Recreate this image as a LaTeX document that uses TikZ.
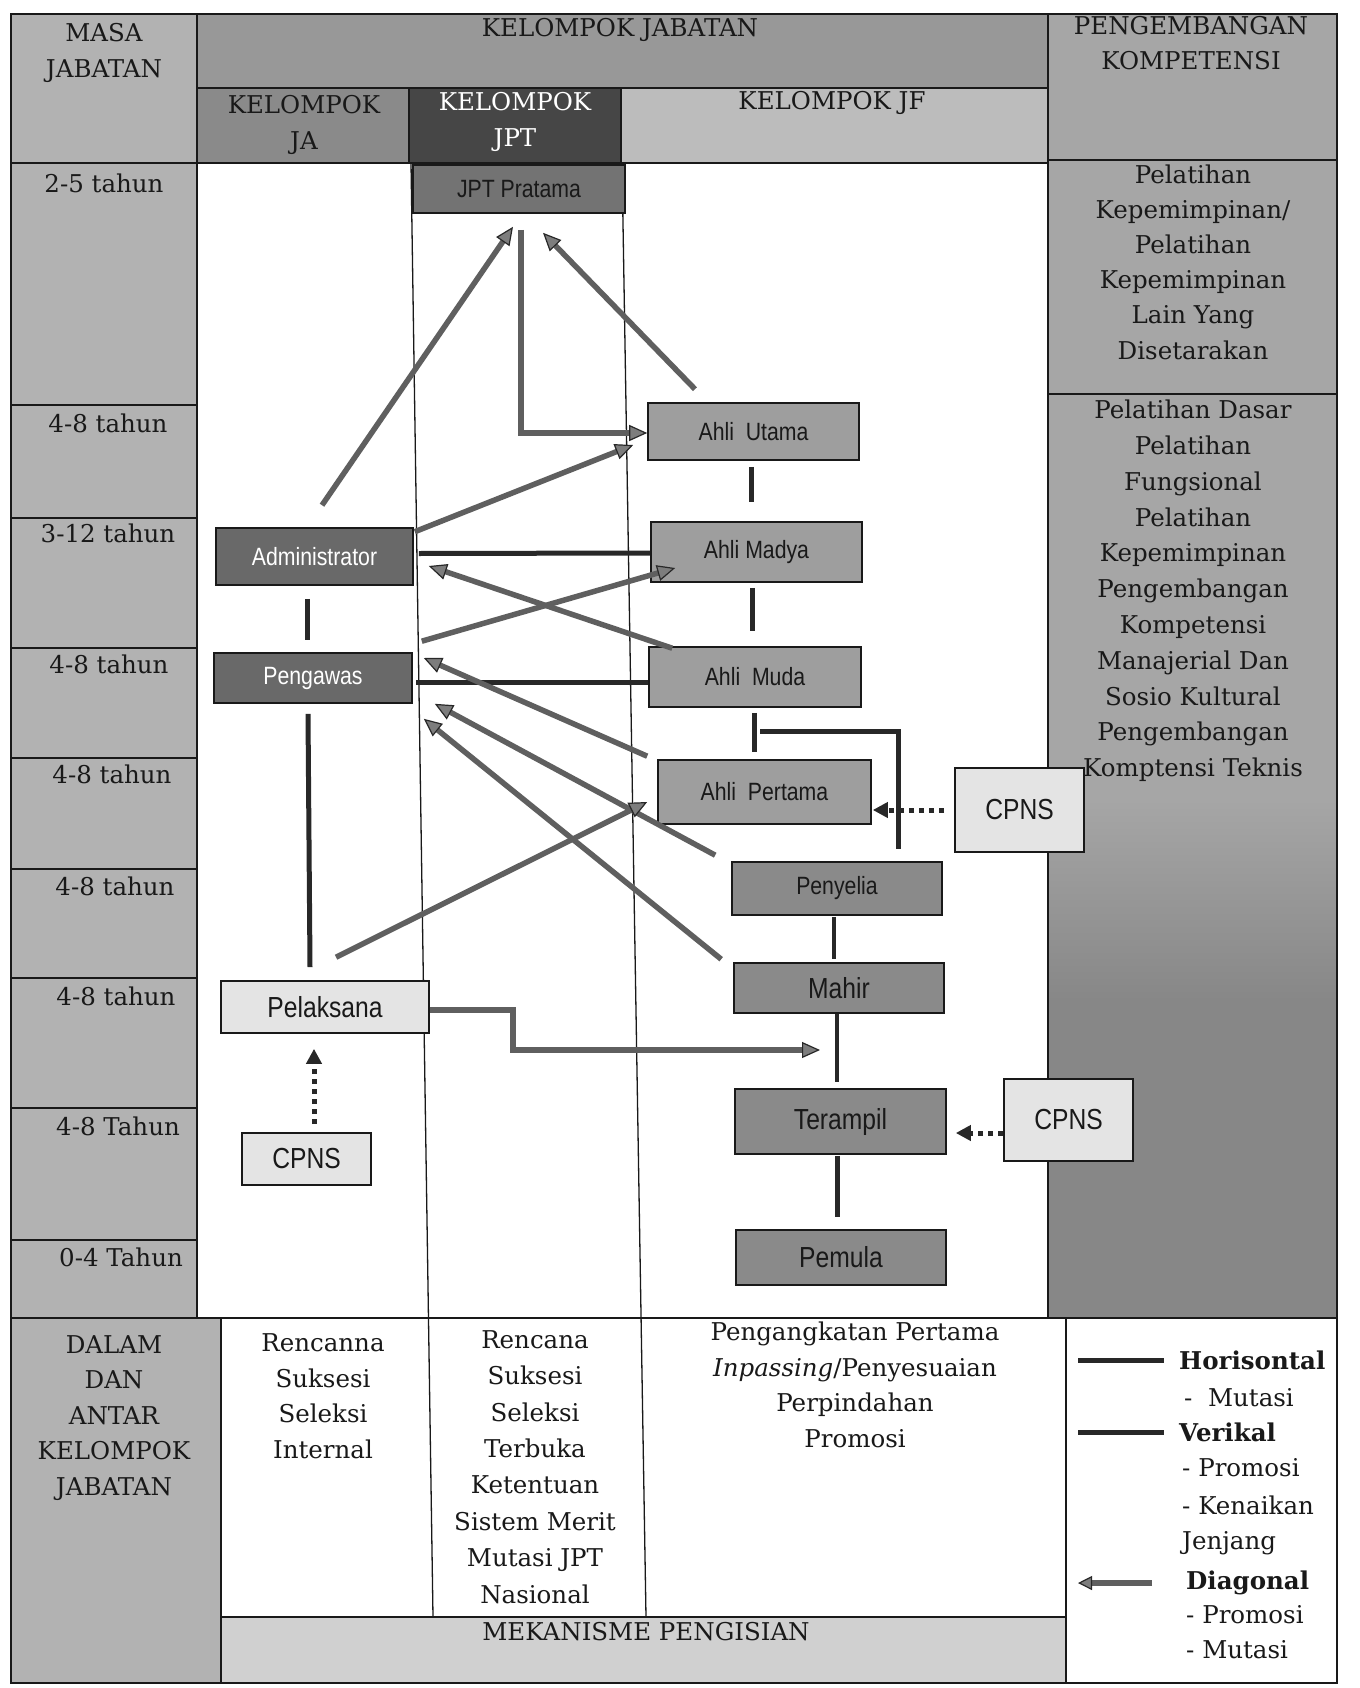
\documentclass[tikz,border=0pt]{standalone}
\usepackage{fontspec}
\setmainfont{DejaVu Serif}
\newfontfamily\boxfont[FakeStretch=0.85]{Liberation Sans}
\usetikzlibrary{arrows.meta,calc}
\definecolor{masa}{RGB}{178,178,178}
\definecolor{hdr}{RGB}{152,152,152}
\definecolor{hja}{RGB}{138,138,138}
\definecolor{hjpt}{RGB}{70,70,70}
\definecolor{hjf}{RGB}{188,188,188}
\definecolor{peng}{RGB}{166,166,166}
\definecolor{pengdark}{RGB}{135,135,135}
\definecolor{meka}{RGB}{208,208,208}
\definecolor{boxjpt}{RGB}{115,115,115}
\definecolor{boxahli}{RGB}{158,158,158}
\definecolor{boxja}{RGB}{105,105,105}
\definecolor{boxjf}{RGB}{138,138,138}
\definecolor{boxlight}{RGB}{228,228,228}
\definecolor{linedark}{RGB}{40,40,40}
\definecolor{arrgray}{RGB}{95,95,95}
\definecolor{tipgray}{RGB}{125,125,125}
\definecolor{ink}{RGB}{25,25,25}
\tikzset{
  gridline/.style={draw=ink, line width=1.3pt},
  txt/.style={font=\fontsize{24.5}{35.5}\selectfont, align=center, inner sep=0pt, text=ink},
  ltxt/.style={font=\fontsize{24.5}{35.5}\selectfont, anchor=west, inner sep=0pt, text=ink},
  jbox/.style={draw=ink, line width=1.6pt, inner sep=0pt, text=ink,
    font=\boxfont\fontsize{25}{28}\selectfont},
  bigtext/.style={font=\boxfont\fontsize{29}{32}\selectfont},
  vl/.style={draw=linedark, line width=5pt},
  vthin/.style={draw=linedark, line width=3.5pt},
  darr/.style={draw=arrgray, line width=5.5pt,
    -{Triangle[length=18pt,width=16pt,fill=tipgray,color=linedark,line width=1.2pt]}},
  dotarr/.style={draw=linedark, line width=5pt, dash pattern=on 5pt off 5pt,
    -{Triangle[length=15pt,width=15pt,fill=linedark]}}
}
\begin{document}
\begin{tikzpicture}[x=1pt,y=-1pt]
\useasboundingbox (0,0) rectangle (1359,1688);
\fill[white] (0,0) rectangle (1359,1688);
% ---------- fills
\fill[masa] (11,14) rectangle (197,1318);
\fill[hdr] (197,14) rectangle (1048,88);
\fill[hja] (197,88) rectangle (409,163);
\fill[hjpt] (409,88) rectangle (621,163);
\fill[hjf] (621,88) rectangle (1048,163);
\fill[peng] (1048,14) rectangle (1337,800);
\shade[top color=peng,bottom color=pengdark] (1048,799) rectangle (1337,1001);
\fill[pengdark] (1048,1000) rectangle (1337,1318);
\fill[masa] (11,1318) rectangle (221,1683);
\fill[meka] (221,1617) rectangle (1066,1683);
% ---------- grid
\draw[gridline] (11,14) rectangle (1337,1683);
\draw[gridline] (197,14) -- (197,1318);
\draw[gridline] (1048,14) -- (1048,1318);
\draw[gridline] (197,88) -- (1048,88);
\draw[gridline] (11,163) -- (1048,163);
\draw[gridline] (1048,160) -- (1337,160);
\draw[gridline] (1048,394) -- (1337,394);
\foreach \yy in {405,518,648,758,869,978,1108,1240}
  \draw[gridline] (11,\yy) -- (197,\yy);
\draw[gridline] (409,88) -- (409,163);
\draw[gridline] (621,88) -- (621,163);
\draw[gridline] (411,163) -- (433,1617);
\draw[gridline] (622,163) -- (646,1617);
\draw[gridline] (11,1318) -- (1337,1318);
\draw[gridline] (221,1318) -- (221,1683);
\draw[gridline] (1066,1318) -- (1066,1683);
\draw[gridline] (221,1617) -- (1066,1617);
% ---------- header texts
\node[txt] (tmasa) at (104,53) {MASA\\JABATAN};
\node[txt] (tkj) at (620,30) {KELOMPOK JABATAN};
\node[txt] (tpk) at (1191,43) {PENGEMBANGAN\\KOMPETENSI};
\node[txt] (tja) at (304,125) {KELOMPOK\\JA};
\node[txt, text=white] (tjpt) at (515,122) {KELOMPOK\\JPT};
\node[txt] (tjf) at (832,103) {KELOMPOK JF};
% ---------- masa labels
\node[txt] (r1) at (104,183) {2-5 tahun};
\node[txt] (r2) at (108,423) {4-8 tahun};
\node[txt] (r3) at (108,533) {3-12 tahun};
\node[txt] (r4) at (109,664) {4-8 tahun};
\node[txt] (r5) at (112,774) {4-8 tahun};
\node[txt] (r6) at (115,886) {4-8 tahun};
\node[txt] (r7) at (116,996) {4-8 tahun};
\node[txt] (r8) at (118,1126) {4-8 Tahun};
\node[txt] (r9) at (121,1257) {0-4 Tahun};
% ---------- pengembangan texts
\node[txt, font=\fontsize{24.5}{35.2}\selectfont] (pk1) at (1193,262)
  {Pelatihan\\Kepemimpinan/\\Pelatihan\\Kepemimpinan\\Lain Yang\\Disetarakan};
\node[txt, font=\fontsize{24.5}{35.8}\selectfont] (pk2) at (1193,591)
  {Pelatihan Dasar\\Pelatihan\\Fungsional\\Pelatihan\\Kepemimpinan\\Pengembangan\\Kompetensi\\Manajerial Dan\\Sosio Kultural\\Pengembangan\\Komptensi Teknis};
% ---------- bottom texts
\node[txt] (bm) at (114,1418) {DALAM\\DAN\\ANTAR\\KELOMPOK\\JABATAN};
\node[txt] (bja) at (323,1396) {Rencanna\\Suksesi\\Seleksi\\Internal};
\node[txt, font=\fontsize{24.5}{36.4}\selectfont] (bjpt) at (535,1467)
  {Rencana\\Suksesi\\Seleksi\\Terbuka\\Ketentuan\\Sistem Merit\\Mutasi JPT\\Nasional};
\node[txt] (bjf) at (855,1385)
  {Pengangkatan Pertama\\\textit{Inpassing}/Penyesuaian\\Perpindahan\\Promosi};
\node[txt] (bmek) at (646,1632) {MEKANISME PENGISIAN};
% ---------- legend
\node[ltxt, font=\bfseries\fontsize{24.5}{30}\selectfont] (lhor) at (1179,1360) {Horisontal};
\node[ltxt] (lmut1) at (1184,1398) {-\ \ Mutasi};
\node[ltxt, font=\bfseries\fontsize{24.5}{30}\selectfont] (lver) at (1179,1432) {Verikal};
\node[ltxt] (lpro1) at (1182,1468) {- Promosi};
\node[ltxt] (lken) at (1182,1505) {- Kenaikan};
\node[ltxt] (ljen) at (1182,1543) {Jenjang};
\node[ltxt, font=\bfseries\fontsize{24.5}{30}\selectfont] (ldia) at (1186,1583) {Diagonal};
\node[ltxt] (lpro2) at (1186,1615) {- Promosi};
\node[ltxt] (lmut2) at (1186,1650) {- Mutasi};
\coordinate (lh) at (1078,1360);
\coordinate (lv) at (1078,1432);
\coordinate (ld) at (1078,1583);
\draw[vl] (lh) -- ([xshift=-15]lhor.west);
\draw[vl] (lv) -- ([xshift=-15]lver.west);
\draw[darr, -{Triangle[length=14pt,width=14pt,fill=tipgray,color=linedark,line width=1.2pt]}]
  ([xshift=-34]ldia.west) -- (ld);
% ---------- boxes
\node[jbox, fill=boxjpt, minimum width=212, minimum height=48] (jpt) at (519,189) {JPT Pratama};
\node[jbox, fill=boxahli, minimum width=211, minimum height=57] (au) at (753.5,431.5) {Ahli\ \ Utama};
\node[jbox, fill=boxahli, minimum width=211, minimum height=60] (am) at (756.5,552) {Ahli Madya};
\node[jbox, fill=boxahli, minimum width=212, minimum height=60] (amu) at (755,677) {Ahli\ \ Muda};
\node[jbox, fill=boxahli, minimum width=213, minimum height=64] (ap) at (764.5,792) {Ahli\ \ Pertama};
\node[jbox, bigtext, fill=boxlight, minimum width=129, minimum height=84] (cpa) at (1019.5,810) {CPNS};
\node[jbox, fill=boxjf, minimum width=210, minimum height=53] (pen) at (837,888.5) {Penyelia};
\node[jbox, bigtext, fill=boxjf, minimum width=210, minimum height=50] (mahir) at (839,988) {Mahir};
\node[jbox, bigtext, fill=boxjf, minimum width=211, minimum height=65] (ter) at (840.5,1121.5) {Terampil};
\node[jbox, bigtext, fill=boxjf, minimum width=210, minimum height=55] (pem) at (841,1257.5) {Pemula};
\node[jbox, bigtext, fill=boxlight, minimum width=129, minimum height=82] (cpb) at (1068.5,1120) {CPNS};
\node[jbox, bigtext, fill=boxlight, minimum width=208, minimum height=52] (pel) at (325,1007) {Pelaksana};
\node[jbox, bigtext, fill=boxlight, minimum width=129, minimum height=52] (cpc) at (306.5,1159) {CPNS};
\node[jbox, fill=boxja, text=white, minimum width=197, minimum height=57] (adm) at (314.5,556.5) {Administrator};
\node[jbox, fill=boxja, text=white, minimum width=198, minimum height=50] (pgw) at (313,678) {Pengawas};
% ---------- vertical / horizontal connectors
\draw[vl] ([xshift=-2.5,yshift=-6]au.south) -- ([xshift=-5.5,yshift=19]am.north);
\draw[vl] ([xshift=-4.5,yshift=-5]am.south) -- ([xshift=-3,yshift=15]amu.north);
\draw[vl] ([xshift=-1,yshift=-5]amu.south) -- ([xshift=-10.5,yshift=7]ap.north);
\draw[vl] ([xshift=5,yshift=-24]amu.south) -| ([xshift=61,yshift=12]pen.north);
\draw[vthin] ([xshift=-3,yshift=-1]pen.south) -- ([xshift=-5,yshift=3]mahir.north);
\draw[vthin] ([xshift=-2]mahir.south) -- ([xshift=-3.5,yshift=6]ter.north);
\draw[vl] ([xshift=-3.5,yshift=-1]ter.south) -- ([xshift=-4,yshift=12]pem.north);
\draw[vl] ([xshift=-7.5,yshift=-13]adm.south) -- ([xshift=-6,yshift=12]pgw.north);
\draw[vl] ([xshift=-5,yshift=-10]pgw.south) -- ([xshift=-15,yshift=13]pel.north);
\draw[vl] ([xshift=5,yshift=3]adm.east) -- ([yshift=-1]am.west);
\draw[vl] ([xshift=3,yshift=-4]pgw.east) -- ([yshift=-5]amu.west);
% ---------- diagonal arrows
\draw[darr] ([xshift=7.5,yshift=22]adm.north) -- ([xshift=-6,yshift=-13]jpt.south);
\draw[darr] ([xshift=2,yshift=-16]jpt.south) |- ([yshift=-1.5]au.west);
\draw[darr] ([xshift=-58.5,yshift=13]au.north) -- ([xshift=24,yshift=-19]jpt.south);
\draw[darr] ([xshift=1,yshift=-4.5]adm.north east) -- ([xshift=-14,yshift=-13.5]au.west);
\draw[darr] ([xshift=24,yshift=-2]amu.north west) -- ([xshift=15,yshift=-9.5]adm.east);
\draw[darr] ([xshift=9,yshift=11]pgw.north east) -- ([xshift=25,yshift=-16]am.west);
\draw[darr] ([xshift=-10,yshift=3]ap.north west) -- ([xshift=11,yshift=20]pgw.east);
\draw[darr] ([xshift=-16,yshift=6]pen.north west) -- ([xshift=22]pgw.south east);
\draw[darr] ([xshift=-12,yshift=3]mahir.north west) -- ([xshift=11,yshift=-15]pgw.south east);
\draw[darr] ([xshift=11,yshift=23]pel.north) -- ([xshift=-10,yshift=-10]ap.west);
\coordinate (mt) at (820,1050);
\draw[darr] ([yshift=-3]pel.east) -- ++(83,0) |- (mt);
% ---------- dotted arrows
\draw[dotarr] ([xshift=-10]cpa.west) -- ([xshift=1,yshift=-18]ap.east);
\draw[dotarr] ([yshift=-13]cpb.west) -- ([xshift=9,yshift=-11.5]ter.east);
\draw[dotarr] ([xshift=7.5,yshift=8]cpc.north) -- ([xshift=-11,yshift=-15]pel.south);
\end{tikzpicture}
\end{document}
